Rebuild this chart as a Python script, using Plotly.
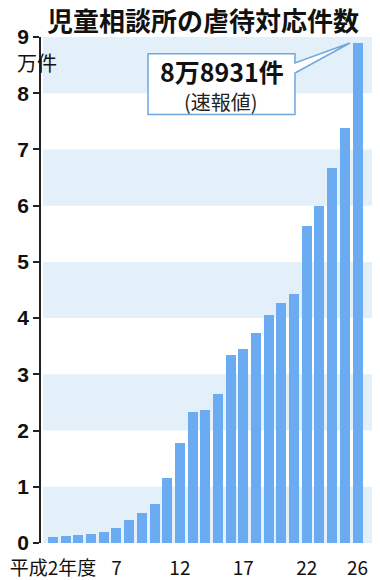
import plotly.graph_objects as go

# 年度 (平成)
years = list(range(2, 27))
# 児童相談所の虐待対応件数 (件)
cases = [1101, 1171, 1372, 1611, 1961, 2722, 4102, 5352, 6932, 11631,
         17725, 23274, 23738, 26569, 33408, 34472, 37323, 40639, 42664,
         44211, 56384, 59919, 66701, 73802, 88931]
values_man = [c / 10000 for c in cases]

tick_years = [2, 7, 12, 17, 22, 26]
tick_text = ["平成2年度", "7", "12", "17", "22", "26"]
y_ticks = list(range(0, 10))

BAR = "#6AABF2"
BAND = "#E3F0FA"
BORDER = "#6FA6DE"
JP = "Noto Sans CJK JP"

fig = go.Figure()
fig.add_trace(go.Bar(x=years, y=values_man, width=0.79,
                     marker=dict(color=BAR, line=dict(width=0)),
                     hoverinfo="skip"))
fig.add_trace(go.Scatter(x=tick_years, y=[-0.16] * len(tick_years),
                         mode="markers", cliponaxis=False,
                         marker=dict(color="#111", size=5),
                         hoverinfo="skip"))

shapes = []
for lo in range(0, 9, 2):
    shapes.append(dict(type="rect", xref="paper", yref="y",
                       x0=0.006, x1=1, y0=lo, y1=lo + 1,
                       fillcolor=BAND, line=dict(width=0), layer="below"))

# callout box with wedge pointing to last bar
tip_x = years[-1] - 0.6
tip_y = values_man[-1]
xl, xr = 9.49, 21.07
yt, yw1, yw2, yb = 8.70, 8.54, 8.36, 7.62
path = (f"M {xl},{yt} L {xr},{yt} L {xr},{yw1} L {tip_x},{tip_y} "
        f"L {xr},{yw2} L {xr},{yb} L {xl},{yb} Z")
shapes.append(dict(type="path", xref="x", yref="y", path=path,
                   fillcolor="white", line=dict(color=BORDER, width=1.5),
                   layer="above"))

annotations = [
    dict(text="<b>児童相談所の虐待対応件数</b>", xref="paper", yref="paper",
         x=0.49, y=1.0, yshift=18, xanchor="center", yanchor="middle",
         showarrow=False, font=dict(family=JP, size=26, color="#111")),
    dict(text="万件", xref="paper", yref="y", x=-0.0785, y=8.55,
         xanchor="left", yanchor="middle", showarrow=False,
         font=dict(family=JP, size=20, color="#111")),
    dict(text="<b>8万8931件</b>", xref="x", yref="y", x=15.3, y=8.40,
         xanchor="center", yanchor="middle", showarrow=False,
         font=dict(family=JP, size=25, color="#111")),
    dict(text="(速報値)", xref="x", yref="y", x=15.2, y=7.85,
         xanchor="center", yanchor="middle", showarrow=False,
         font=dict(family=JP, size=20, color="#222")),
]

fig.update_layout(
    width=380, height=580,
    margin=dict(l=41, r=8, t=37, b=37, autoexpand=False),
    paper_bgcolor="white", plot_bgcolor="white",
    showlegend=False, bargap=0,
    shapes=shapes, annotations=annotations,
    xaxis=dict(range=[1.054, 27.14], tickvals=tick_years, ticktext=tick_text,
               ticks="", showline=False, showgrid=False, zeroline=False,
               ticklabelstandoff=12, automargin=False,
               tickfont=dict(family=JP, size=19, color="#111"),
               fixedrange=True),
    yaxis=dict(range=[0, 9], tickvals=y_ticks, ticks="outside", ticklen=6,
               tickwidth=1.5, tickcolor="#222", showline=True, linecolor="#222",
               linewidth=1.5, showgrid=False, zeroline=False, automargin=False,
               tickfont=dict(family="Liberation Sans", size=21, color="#111",
                             weight="bold"),
               ticklabelstandoff=0, fixedrange=True),
)

fig.write_html("out.html", config={"displayModeBar": False},
               post_script="document.body.style.margin='0px';")
